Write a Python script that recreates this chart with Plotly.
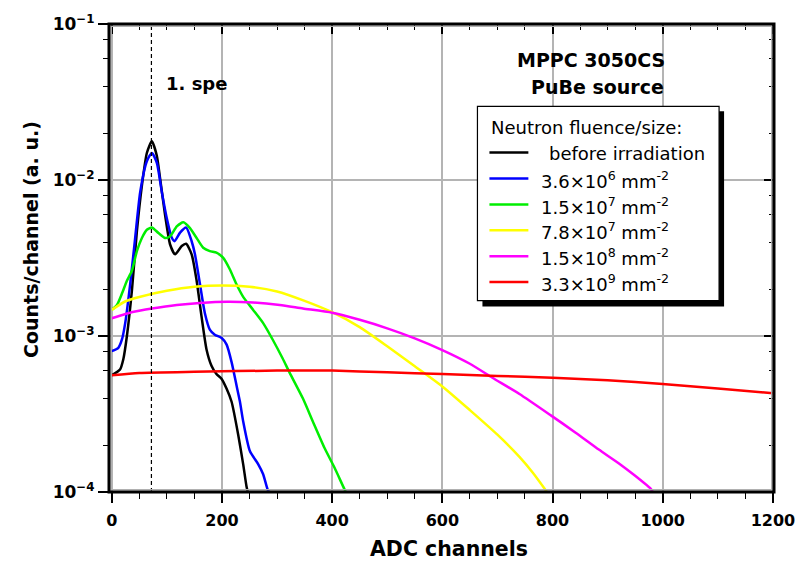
import plotly.graph_objects as go

# ---- spectra: ADC channel vs counts/channel (a. u.) ----
x_before = [0, 15, 21, 27.5, 36.6, 45.6, 54.7, 63.7, 72.8, 81.8, 87.8, 96.8, 105.9, 115, 127, 135,
            145, 154, 163, 172, 181, 190, 199.5, 208.5, 217.5, 229.5, 238.5, 244.7, 247]
y_before = [5.6e-4, 6.1e-4, 7.1e-4, 1.0e-3, 1.96e-3, 4.68e-3, 9.2e-3, 1.49e-2, 1.77e-2, 1.43e-2, 1.02e-2,
            5.96e-3, 3.86e-3, 3.34e-3, 3.77e-3, 3.9e-3, 3.34e-3, 2.27e-3, 1.33e-3, 8.2e-4, 6.45e-4,
            5.71e-4, 5.31e-4, 4.59e-4, 3.79e-4, 2.33e-4, 1.51e-4, 1.08e-4, 1.0e-4]

x_36e6 = [0, 12, 18.5, 24.4, 33.5, 42.5, 51.6, 63.7, 72.8, 81.8, 90.9, 99.9, 109, 114, 124, 135, 145,
          151, 160, 169, 178, 187, 199.5, 208.5, 217.5, 226.6, 232.6, 238.6, 250.7, 265.7, 274.8, 283.8, 287]
y_36e6 = [8.0e-4, 8.4e-4, 9.5e-4, 1.21e-3, 2.16e-3, 4.26e-3, 8.36e-3, 1.32e-2, 1.49e-2, 1.29e-2, 8.36e-3,
          5.69e-3, 4.26e-3, 4.05e-3, 4.6e-3, 4.96e-3, 4.05e-3, 3.34e-3, 2.16e-3, 1.40e-3, 1.10e-3, 1.02e-3,
          9.7e-4, 8.8e-4, 6.8e-4, 4.8e-4, 3.8e-4, 2.83e-4, 1.83e-4, 1.51e-4, 1.3e-4, 1.02e-4, 1.0e-4]

x_15e7 = [0, 9.4, 18.5, 27.5, 36.6, 45.6, 54.7, 63.7, 72.8, 84.7, 96.8, 106, 118, 130, 142, 154, 166,
          178, 190, 202, 214, 226, 238.5, 256.7, 274.8, 292, 310, 323, 347, 365, 386, 404, 423, 425]
y_15e7 = [1.47e-3, 1.58e-3, 1.87e-3, 2.26e-3, 2.62e-3, 3.5e-3, 4.25e-3, 4.8e-3, 4.96e-3, 4.57e-3, 4.25e-3,
          4.36e-3, 5.04e-3, 5.36e-3, 4.92e-3, 4.25e-3, 3.68e-3, 3.5e-3, 3.42e-3, 3.18e-3, 2.69e-3, 2.16e-3,
          1.78e-3, 1.47e-3, 1.21e-3, 9.5e-4, 7.2e-4, 5.8e-4, 3.97e-4, 2.83e-4, 1.92e-4, 1.44e-4, 1.03e-4, 1.0e-4]

x_78e7 = [0, 25, 50, 100, 150, 200, 250, 300, 350, 400, 450, 500, 550, 600, 650, 700, 740, 765, 790]
y_78e7 = [1.47e-3, 1.67e-3, 1.78e-3, 1.95e-3, 2.07e-3, 2.11e-3, 2.07e-3, 1.93e-3, 1.68e-3, 1.42e-3,
          1.14e-3, 8.6e-4, 6.4e-4, 4.75e-4, 3.35e-4, 2.33e-4, 1.68e-4, 1.32e-4, 1.0e-4]

x_15e8 = [0, 40, 73, 118, 160, 210, 257, 305, 347, 400, 450, 500, 550, 600, 650, 691, 740, 797, 842,
          884, 920, 950, 978, 982]
y_15e8 = [1.30e-3, 1.43e-3, 1.50e-3, 1.58e-3, 1.63e-3, 1.66e-3, 1.64e-3, 1.58e-3, 1.50e-3, 1.41e-3,
          1.27e-3, 1.12e-3, 9.66e-4, 8.13e-4, 6.64e-4, 5.4e-4, 4.25e-4, 3.1e-4, 2.4e-4, 1.87e-4, 1.53e-4,
          1.27e-4, 1.05e-4, 1.0e-4]

x_33e9 = [0, 50, 150, 300, 400, 500, 600, 700, 800, 900, 1000, 1100, 1200]
y_33e9 = [5.6e-4, 5.8e-4, 5.9e-4, 6.0e-4, 6.0e-4, 5.85e-4, 5.7e-4, 5.55e-4, 5.4e-4, 5.2e-4, 4.93e-4,
          4.6e-4, 4.3e-4]

series_names = ["before irradiation",
                "3.6×10<sup>6</sup> mm<sup>-2</sup>",
                "1.5×10<sup>7</sup> mm<sup>-2</sup>",
                "7.8×10<sup>7</sup> mm<sup>-2</sup>",
                "1.5×10<sup>8</sup> mm<sup>-2</sup>",
                "3.3×10<sup>9</sup> mm<sup>-2</sup>"]
series_colors = ["#000000", "#0000ff", "#00ee00", "#ffff00", "#ff00ff", "#ff0000"]
series_x = [x_before, x_36e6, x_15e7, x_78e7, x_15e8, x_33e9]
series_y = [y_before, y_36e6, y_15e7, y_78e7, y_15e8, y_33e9]

x_ticks = [0, 200, 400, 600, 800, 1000, 1200]
y_ticks = [1e-4, 1e-3, 1e-2, 1e-1]
y_ticktext = ["10<sup>−4</sup>", "10<sup>−3</sup>", "10<sup>−2</sup>", "10<sup>−1</sup>"]
y_minor = [m * d for d in (1e-4, 1e-3, 1e-2) for m in (2, 4, 6, 8)]
spe_channel = 72

X_RANGE = [-5, 1202]
Y_RANGE = [-4, -1]

W, H = 807, 565
ML, MR, MT, MB = 109, 32, 15, 73
PW, PH = W - ML - MR, H - MT - MB


def px(xp):
    return (xp - ML) / PW


def py(yp):
    return (H - MB - yp) / PH


fig = go.Figure()
for xs, ys, col in zip(series_x, series_y, series_colors):
    fig.add_trace(go.Scatter(x=xs, y=ys, mode="lines", line=dict(color=col, width=2.5, shape="spline", smoothing=0.6),
                             showlegend=False, hoverinfo="skip"))

x_tick_font = dict(family="DejaVu Sans", size=16, color="black", weight="bold")
y_tick_font = dict(family="DejaVu Sans", size=17, color="black", weight="bold")

fig.update_layout(
    width=W, height=H,
    margin=dict(l=ML, r=MR, t=MT, b=MB),
    paper_bgcolor="white", plot_bgcolor="white",
    showlegend=False,
    font=dict(family="DejaVu Sans", color="black"),
    xaxis=dict(range=X_RANGE, tickvals=x_ticks, ticks="outside", ticklen=10, tickwidth=1.5, tickcolor="black",
               showgrid=True, gridcolor="#b4b4b4", gridwidth=1.5, zeroline=False, showline=False,
               ticklabelstandoff=4,
               minor=dict(dtick=50, tick0=0, ticks="outside", ticklen=6, tickwidth=1.2, tickcolor="black",
                          showgrid=False),
               tickfont=x_tick_font),
    yaxis=dict(type="log", range=Y_RANGE, tickvals=y_ticks, ticktext=y_ticktext, ticks="outside", ticklen=10,
               tickwidth=1.5, tickcolor="black", showgrid=True, gridcolor="#b4b4b4", gridwidth=1.5,
               zeroline=False, showline=False,
               minor=dict(tickvals=y_minor, ticks="outside", ticklen=5, tickwidth=1.2, tickcolor="black",
                          showgrid=False),
               tickfont=y_tick_font),
    xaxis2=dict(range=X_RANGE, overlaying="x", side="top", anchor="y", tickvals=x_ticks, ticks="inside",
                ticklen=10, tickwidth=1.5, tickcolor="black", showticklabels=False, showgrid=False,
                zeroline=False,
                minor=dict(dtick=50, tick0=0, ticks="inside", ticklen=6, tickwidth=1.2, tickcolor="black",
                           showgrid=False)),
    yaxis2=dict(type="log", range=Y_RANGE, overlaying="y", side="right", anchor="x", tickvals=y_ticks,
                ticks="inside", ticklen=10, tickwidth=1.5, tickcolor="black", showticklabels=False,
                showgrid=False, zeroline=False,
                minor=dict(tickvals=y_minor, ticks="inside", ticklen=5, tickwidth=1.2, tickcolor="black",
                           showgrid=False)),
)
# empty trace so the mirrored axes are laid out
fig.add_trace(go.Scatter(x=[], y=[], xaxis="x2", yaxis="y2", showlegend=False))

shapes = []
# first-photoelectron marker
shapes.append(dict(type="line", xref="x", yref="paper", x0=spe_channel, x1=spe_channel, y0=0, y1=1,
                   line=dict(color="black", width=1.2, dash="4px,3px"), layer="above"))
# plot frame
shapes.append(dict(type="rect", xref="paper", yref="paper", x0=2.2 / PW, x1=1 - 2.2 / PW, y0=2.2 / PH,
                   y1=1 - 2.2 / PH, line=dict(color="#b0b0b0", width=1.5), layer="above"))
shapes.append(dict(type="rect", xref="paper", yref="paper", x0=0, x1=1, y0=0, y1=1,
                   line=dict(color="black", width=3), layer="above"))

# legend box with drop shadow
LX0, LY0, LX1, LY1 = 478, 99, 720, 297
shapes.append(dict(type="rect", xref="paper", yref="paper", x0=px(LX0 + 5), x1=px(LX1 + 5), y0=py(LY1 + 6),
                   y1=py(LY0 + 5), fillcolor="black", line=dict(width=0), layer="above"))
shapes.append(dict(type="rect", xref="paper", yref="paper", x0=px(LX0), x1=px(LX1), y0=py(LY1), y1=py(LY0),
                   fillcolor="white", line=dict(color="black", width=1.2), layer="above"))

annotations = []
leg_font = dict(family="DejaVu Sans", size=18, color="black")
annotations.append(dict(text="Neutron fluence/size:", xref="paper", yref="paper", x=px(490), y=py(120),
                        xanchor="left", yanchor="middle", showarrow=False, font=leg_font))
row_y = [146, 172.5, 199, 225.3, 251.7, 278]
for i, (name, col) in enumerate(zip(series_names, series_colors)):
    yy = row_y[i]
    shapes.append(dict(type="line", xref="paper", yref="paper", x0=px(490), x1=px(529), y0=py(yy), y1=py(yy),
                       line=dict(color=col, width=2.5), layer="above"))
    annotations.append(dict(text=name, xref="paper", yref="paper", x=px(548 if i == 0 else 540), y=py(yy + 1),
                            xanchor="left", yanchor="middle", showarrow=False, font=leg_font))

label_font = dict(family="DejaVu Sans", size=19, color="black", weight="bold")
annotations.append(dict(text="MPPC 3050CS", xref="paper", yref="paper", x=px(668), y=py(52),
                        xanchor="right", yanchor="middle", showarrow=False, font=label_font))
annotations.append(dict(text="PuBe source", xref="paper", yref="paper", x=px(667), y=py(79),
                        xanchor="right", yanchor="middle", showarrow=False, font=label_font))
annotations.append(dict(text="1. spe", xref="paper", yref="paper", x=px(164), y=py(76),
                        xanchor="left", yanchor="middle", showarrow=False,
                        font=dict(family="DejaVu Sans", size=18, color="black", weight="bold")))

# axis titles
annotations.append(dict(text="ADC channels", xref="paper", yref="paper", x=px(450), y=py(550),
                        xanchor="center", yanchor="middle", showarrow=False,
                        font=dict(family="DejaVu Sans", size=20.5, color="black", weight="bold")))
annotations.append(dict(text="Counts/channel (a. u.)", xref="paper", yref="paper", x=px(31), y=py(235),
                        xanchor="center", yanchor="middle", textangle=-90, showarrow=False,
                        font=dict(family="DejaVu Sans", size=19, color="black", weight="bold")))

fig.update_layout(shapes=shapes, annotations=annotations)
fig.write_html("out.html")
